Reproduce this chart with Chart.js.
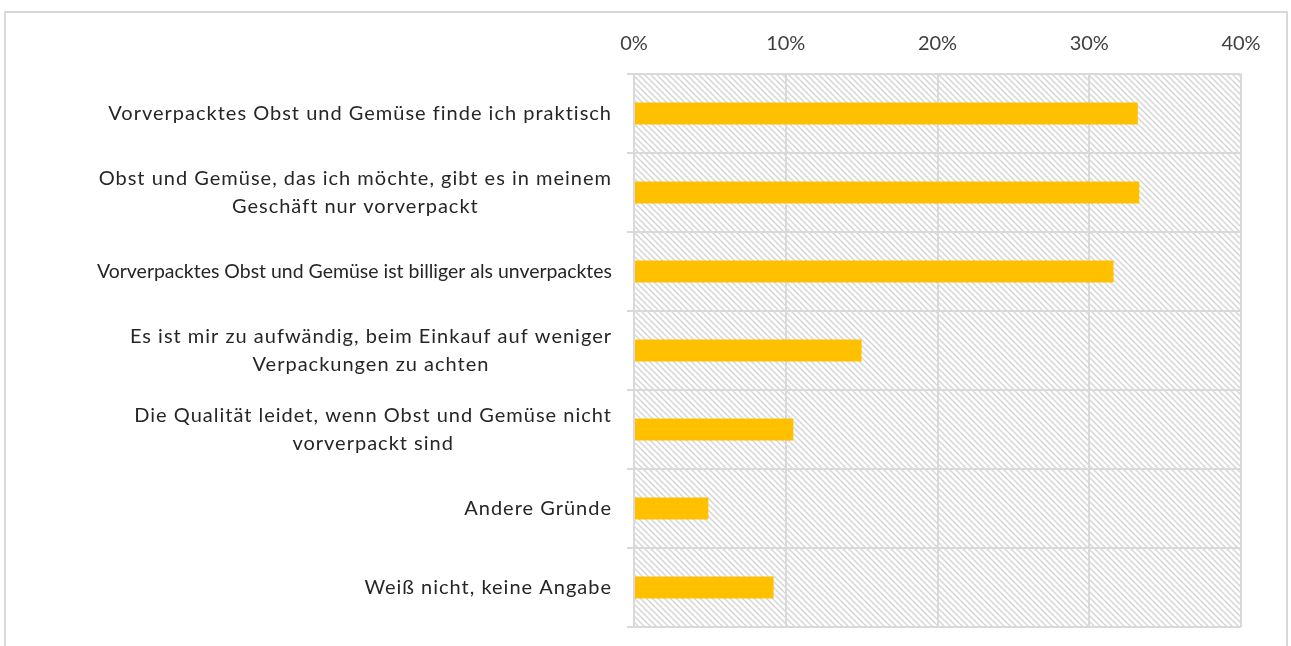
<!DOCTYPE html>
<html>
<head>
<meta charset="utf-8">
<script src="https://cdn.jsdelivr.net/npm/chart.js@4"></script>
<style>
html,body{margin:0;padding:0;background:#fff;}
#wrap{position:relative;width:1291px;height:646px;overflow:hidden;}
#frame{position:absolute;left:4px;top:11px;width:1284px;height:700px;border:2px solid #d9d9d9;box-sizing:border-box;}
canvas{position:absolute;left:0;top:0;}
</style>
</head>
<body>
<div id="wrap">
<div id="frame"></div>
<canvas id="c" width="1291" height="646"></canvas>
</div>
<script>
const categories = [
  "Vorverpacktes Obst und Gemüse finde ich praktisch",
  ["Obst und Gemüse, das ich möchte, gibt es in meinem", "Geschäft nur vorverpackt"],
  "Vorverpacktes Obst und Gemüse ist billiger als unverpacktes",
  ["Es ist mir zu aufwändig, beim Einkauf auf weniger", "Verpackungen zu achten"],
  ["Die Qualität leidet, wenn Obst und Gemüse nicht", "vorverpackt sind"],
  "Andere Gründe",
  "Weiß nicht, keine Angabe"
];
const values = [33.2, 33.3, 31.6, 15.0, 10.5, 4.9, 9.2];
const tickValues = [0, 10, 20, 30, 40];

function makePattern(ctx){
  const p = document.createElement('canvas');
  p.width = 6; p.height = 6;
  const g = p.getContext('2d');
  g.fillStyle = '#ffffff'; g.fillRect(0,0,6,6);
  g.strokeStyle = '#d6d6d6'; g.lineWidth = 1.5;
  g.beginPath();
  g.moveTo(-1,-1); g.lineTo(7,7);
  g.moveTo(-4,2); g.lineTo(4,10);
  g.moveTo(2,-4); g.lineTo(10,4);
  g.stroke();
  return ctx.createPattern(p,'repeat');
}

const hatchPlugin = {
  id:'hatch',
  beforeDraw(chart){
    const {ctx, chartArea:a} = chart;
    ctx.save();
    ctx.fillStyle = makePattern(ctx);
    ctx.fillRect(a.left, a.top, a.right-a.left, a.bottom-a.top);
    ctx.restore();
  }
};

// category labels: block right-aligned, lines centred within the block
const labelPlugin = {
  id:'catLabels',
  afterDraw(chart){
    const {ctx} = chart;
    const y = chart.scales.y;
    const right = chart.chartArea.left - 22;
    const lh = 28;
    const maxW = 515;
    ctx.save();
    ctx.font = '20px Lato';
    ctx.fillStyle = '#262626';
    ctx.textBaseline = 'middle';
    ctx.textAlign = 'center';
    chart.data.labels.forEach((lab, i) => {
      const lines = Array.isArray(lab) ? lab : [lab];
      ctx.letterSpacing = '1px';
      let w = Math.max(...lines.map(l => ctx.measureText(l).width));
      if (w > maxW) {
        ctx.letterSpacing = '0px';
        w = Math.max(...lines.map(l => ctx.measureText(l).width));
      }
      w = Math.min(maxW, w);
      const cx = right - w/2;
      const cy = y.getPixelForTick(i);
      const y0 = cy - (lines.length-1)*lh/2;
      lines.forEach((l, k) => ctx.fillText(l, cx, y0 + k*lh, maxW));
    });
    ctx.restore();
  }
};

new Chart(document.getElementById('c'), {
  type:'bar',
  data:{
    labels: categories,
    datasets:[{
      data: values,
      backgroundColor:'#FFC000',
      borderWidth:0,
      barPercentage:0.56,
      categoryPercentage:0.5
    }]
  },
  plugins:[hatchPlugin, labelPlugin],
  options:{
    indexAxis:'y',
    responsive:false,
    animation:false,
    layout:{padding:{left:0,right:50,top:0,bottom:19}},
    plugins:{legend:{display:false},tooltip:{enabled:false}},
    scales:{
      x:{
        position:'top',
        min:0,max:40,
        afterBuildTicks(s){ s.ticks = tickValues.map(v=>({value:v})); },
        afterFit(s){ s.height = 74; s.paddingLeft = 0; s.paddingRight = 0; },
        ticks:{
          callback:v=>v+'%',
          color:'#404040',
          font:{family:'Lato',size:20},
          padding:18,
          maxRotation:0
        },
        grid:{color:'#d9d9d9',lineWidth:2,drawTicks:false},
        border:{display:false}
      },
      y:{
        afterFit(s){ s.width = 634; s.paddingTop = 0; s.paddingBottom = 0; },
        ticks:{ display:false },
        grid:{color:'#d9d9d9',lineWidth:2,tickLength:7,offset:true},
        border:{display:false}
      }
    }
  }
});
</script>
</body>
</html>
